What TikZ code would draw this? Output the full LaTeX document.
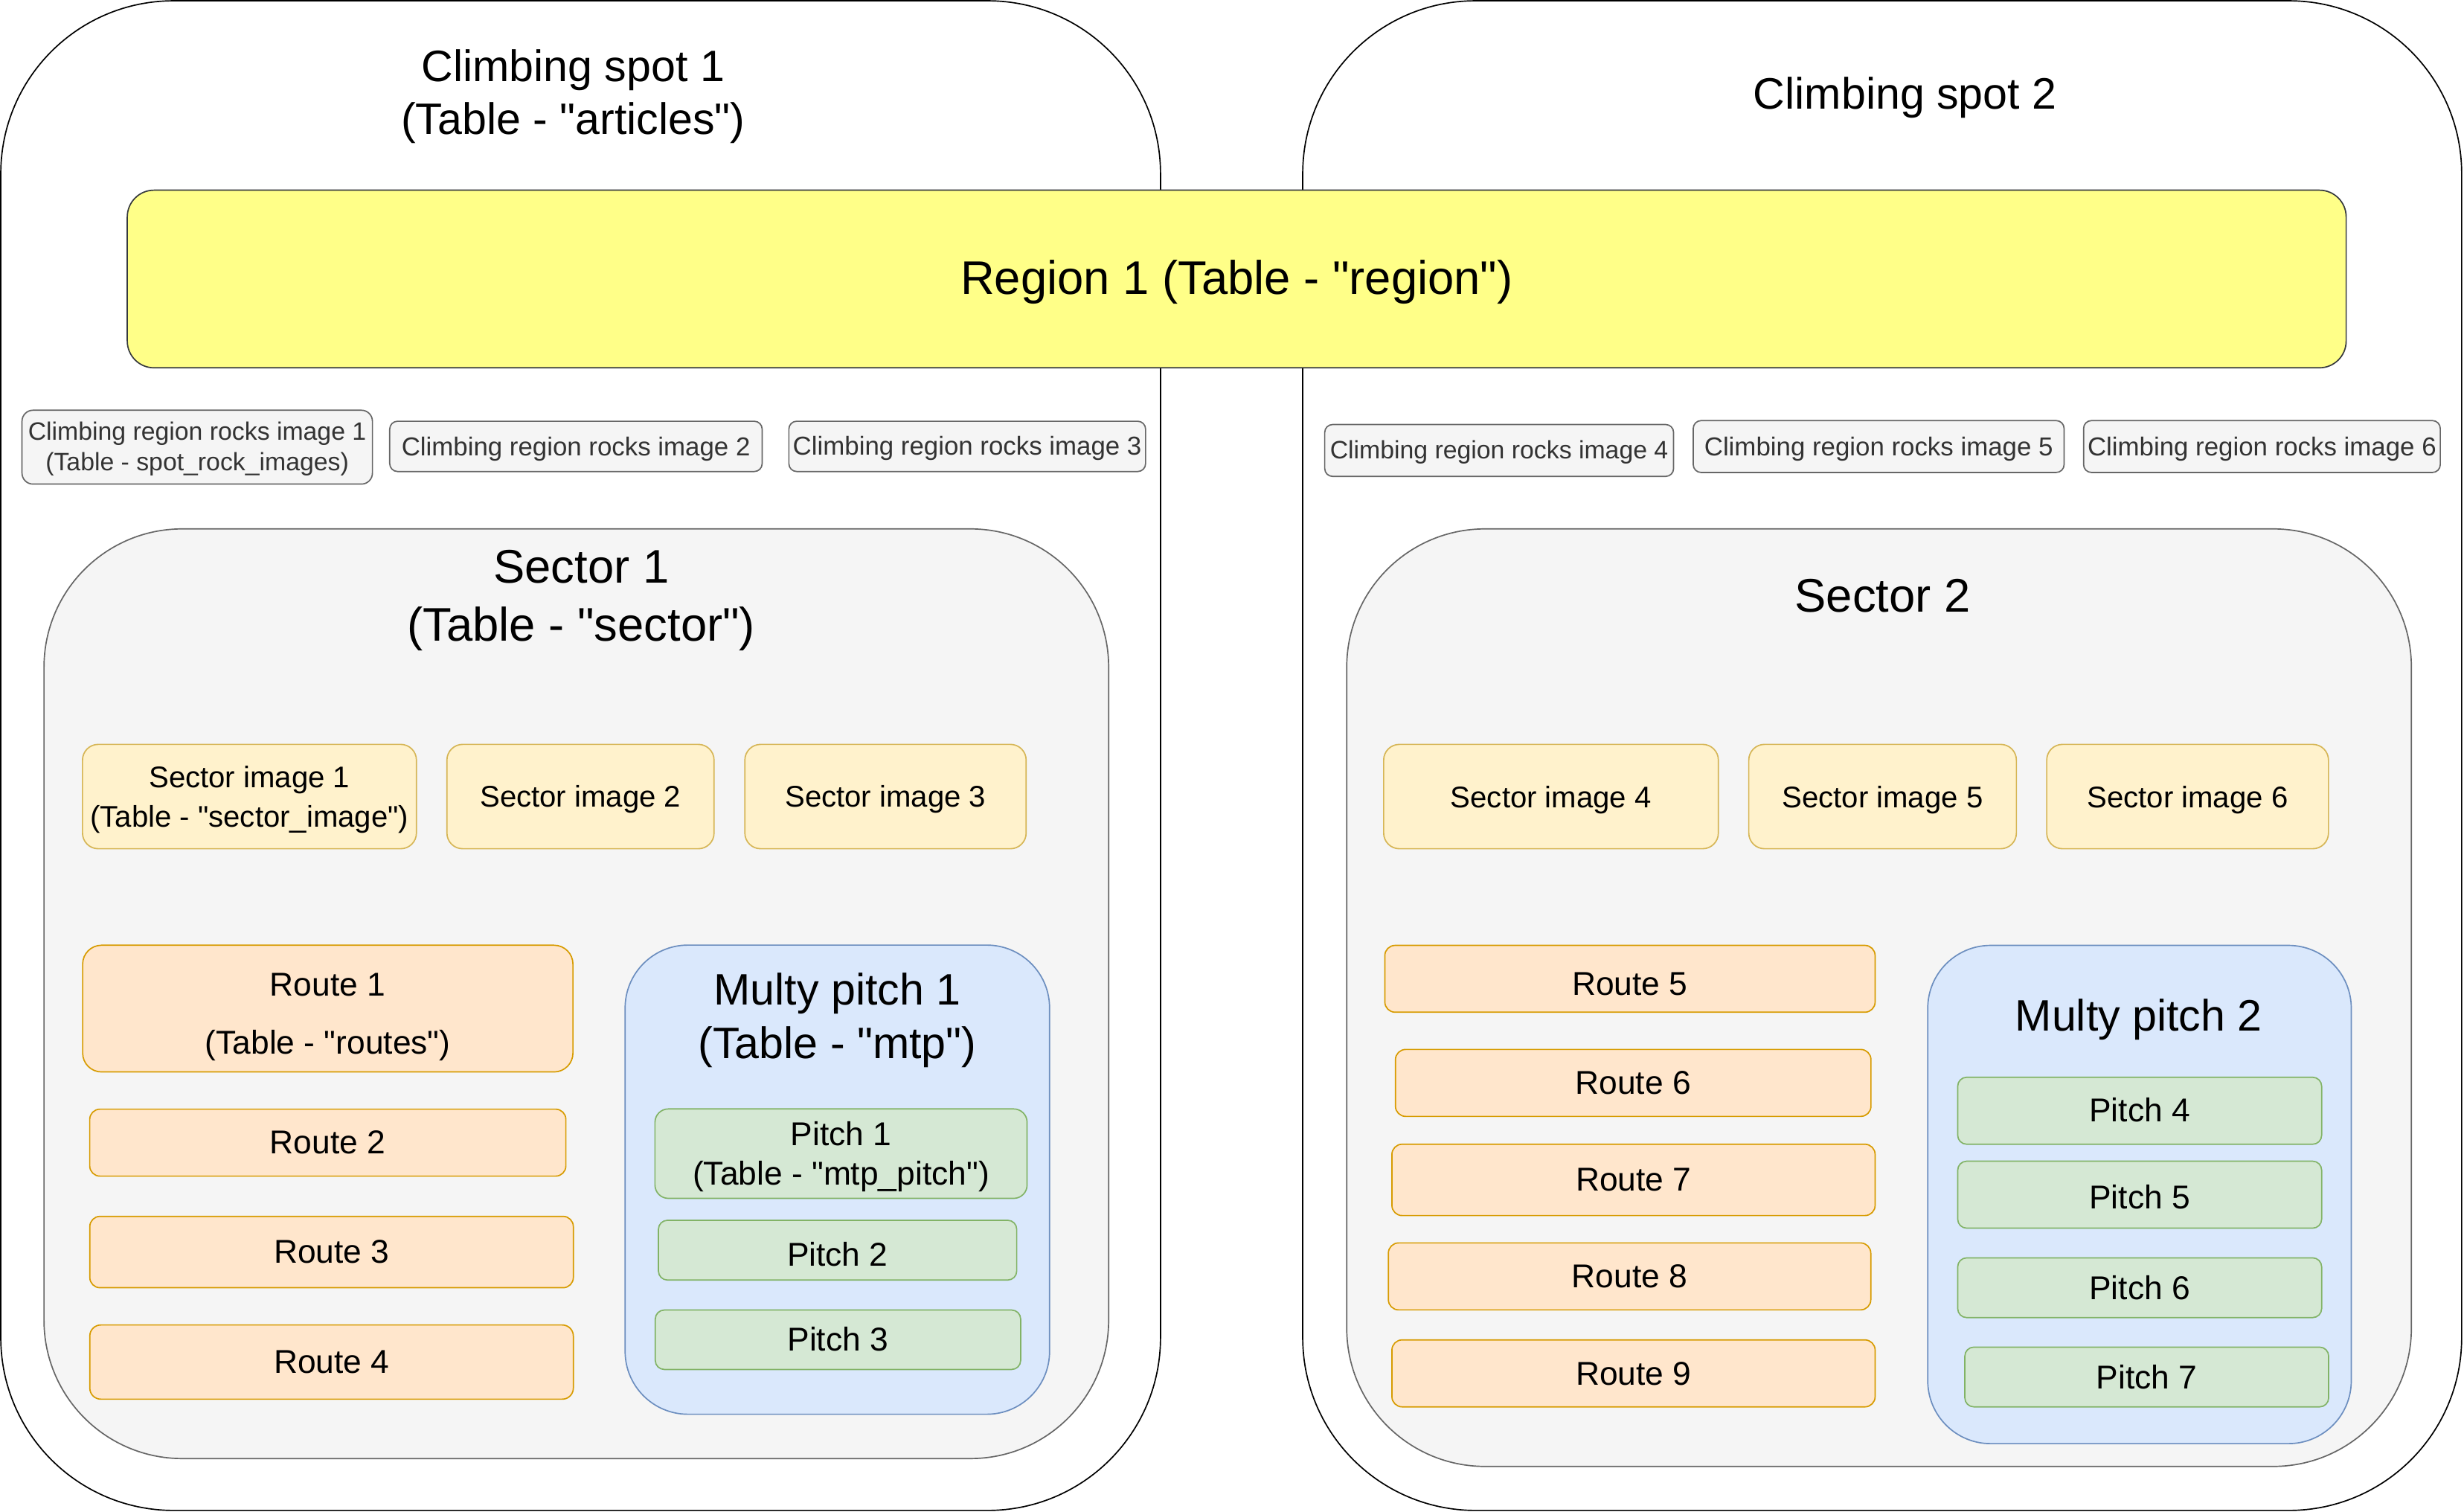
\documentclass[tikz,border=0pt]{standalone}
\usepackage{fontspec}
\setmainfont{Liberation Sans}[Ligatures=TeXOff]
\definecolor{regfill}{HTML}{FFFF88}
\definecolor{regdraw}{HTML}{36393D}
\definecolor{grayfill}{HTML}{F5F5F5}
\definecolor{graydraw}{HTML}{666666}
\definecolor{graytext}{HTML}{333333}
\definecolor{sifill}{HTML}{FFF2CC}
\definecolor{sidraw}{HTML}{D6B656}
\definecolor{rtfill}{HTML}{FFE6CC}
\definecolor{rtdraw}{HTML}{D79B00}
\definecolor{mpfill}{HTML}{DAE8FC}
\definecolor{mpdraw}{HTML}{6C8EBF}
\definecolor{pifill}{HTML}{D5E8D4}
\definecolor{pidraw}{HTML}{82B366}
\newcommand{\twolines}[2]{\begin{tabular}[t]{@{}c@{}}#1\\#2\end{tabular}}
\begin{document}
\begin{tikzpicture}[x=1pt,y=-1pt,
  basebox/.style={rectangle, inner sep=0pt, outer sep=0pt, line width=0.8pt, align=center, text depth=0pt},
  spotbox/.style={basebox, draw=black, fill=white, rounded corners=110pt},
  regionbox/.style={basebox, draw=regdraw, fill=regfill, rounded corners=17pt, font=\fontsize{30}{36}\selectfont},
  rockbox/.style={basebox, draw=graydraw, fill=grayfill, rounded corners=5pt, text=graytext, font=\fontsize{16.5}{19.5}\selectfont},
  sectorbox/.style={basebox, draw=graydraw, fill=grayfill, rounded corners=88pt},
  simgbox/.style={basebox, draw=sidraw, fill=sifill, rounded corners=10pt, font=\fontsize{19}{25}\selectfont},
  routebox/.style={basebox, draw=rtdraw, fill=rtfill, rounded corners=6.5pt, font=\fontsize{21}{36.7}\selectfont},
  mtpbox/.style={basebox, draw=mpdraw, fill=mpfill, rounded corners=40pt},
  pitchbox/.style={basebox, draw=pidraw, fill=pifill, rounded corners=5.7pt, font=\fontsize{21}{25.4}\selectfont},
  lbl/.style={inner sep=0pt, outer sep=0pt, anchor=base, align=center},
  biglbl/.style={lbl, font=\fontsize{28}{33.8}\selectfont},
  seclbl/.style={lbl, font=\fontsize{30}{37}\selectfont},
]
\useasboundingbox (0,0) rectangle (1568,961.6);

% climbing spots
\node[spotbox, minimum width=738pt, minimum height=960.5pt] (spot1) at (369.5,480.75) {};
\node[spotbox, minimum width=737.5pt, minimum height=960.5pt] (spot2) at (1197.75,480.75) {};
\node[biglbl] (spot1lbl) at (364.7,51.8) {\twolines{Climbing spot 1}{(Table - "articles")}};
\node[biglbl] (spot2lbl) at (1212.3,69.4) {Climbing spot 2};

% region
\node[regionbox, minimum width=1412pt, minimum height=113pt, text height=19.2pt] (region) at (787,177.5) {Region 1 (Table - "region")};

% rocks images
\node[rockbox, minimum width=223pt, minimum height=47pt, rounded corners=7pt, text height=0pt, text depth=9pt, font=\fontsize{16}{19.5}\selectfont] (rock1) at (125.5,284.5) {\twolines{Climbing region rocks image 1}{(Table - spot\_rock\_images)}};
\node[rockbox, minimum width=237pt, minimum height=32pt, text height=12.4pt] (rock2) at (366.5,284) {Climbing region rocks image 2};
\node[rockbox, minimum width=227pt, minimum height=32pt, text height=11.2pt] (rock3) at (615.5,284) {Climbing region rocks image 3};
\node[rockbox, minimum width=222pt, minimum height=33pt, text height=10.8pt, font=\fontsize{16}{19.5}\selectfont] (rock4) at (954,286.6) {Climbing region rocks image 4};
\node[rockbox, minimum width=236pt, minimum height=33pt, text height=11.6pt] (rock5) at (1195.5,284.1) {Climbing region rocks image 5};
\node[rockbox, minimum width=227pt, minimum height=33pt, text height=11.6pt] (rock6) at (1439.4,284.1) {Climbing region rocks image 6};

% sectors
\node[sectorbox, minimum width=677.5pt, minimum height=591.5pt] (sector1) at (366.75,632.25) {};
\node[sectorbox, minimum width=677.5pt, minimum height=596.5pt] (sector2) at (1195.75,634.75) {};
\node[seclbl] (sector1lbl) at (369.9,370.9) {\twolines{Sector 1}{(Table - "sector")}};
\node[seclbl] (sector2lbl) at (1198,389.4) {Sector 2};

% sector images
\node[simgbox, minimum width=212.5pt, minimum height=66.4pt, text height=0pt, text depth=11pt] (simg1) at (158.75,506.8) {\twolines{Sector image 1}{(Table - "sector\_image")}};
\node[simgbox, minimum width=170pt, minimum height=66.4pt, text height=13.6pt] (simg2) at (369.4,506.8) {Sector image 2};
\node[simgbox, minimum width=179pt, minimum height=66.4pt, text height=13.6pt] (simg3) at (563.5,506.8) {Sector image 3};
\node[simgbox, minimum width=213pt, minimum height=66.4pt, text height=14.2pt] (simg4) at (987,506.8) {Sector image 4};
\node[simgbox, minimum width=170.3pt, minimum height=66.4pt, text height=13.8pt] (simg5) at (1198,506.8) {Sector image 5};
\node[simgbox, minimum width=179.3pt, minimum height=66.4pt, text height=13.8pt] (simg6) at (1392.1,506.8) {Sector image 6};

% routes
\node[routebox, minimum width=312pt, minimum height=80.6pt, rounded corners=12pt, text height=0pt, text depth=15.6pt] (route1) at (208.6,641.7) {\twolines{Route 1}{(Table - "routes")}};
\node[routebox, minimum width=303pt, minimum height=42.6pt, text height=14.4pt] (route2) at (208.6,727) {Route 2};
\node[routebox, minimum width=307.7pt, minimum height=45.4pt, text height=14pt] (route3) at (211,796.6) {Route 3};
\node[routebox, minimum width=307.7pt, minimum height=47.2pt, rounded corners=7pt, text height=14.4pt] (route4) at (211,866.6) {Route 4};
\node[routebox, minimum width=312pt, minimum height=42.5pt, text height=20.8pt] (route5) at (1037.25,622.75) {Route 5};
\node[routebox, minimum width=302.6pt, minimum height=42.6pt, text height=14.2pt] (route6) at (1039.3,689) {Route 6};
\node[routebox, minimum width=307.5pt, minimum height=45.4pt, text height=14pt] (route7) at (1039.5,750.7) {Route 7};
\node[routebox, minimum width=307pt, minimum height=42.6pt, text height=14.6pt] (route8) at (1037,812.1) {Route 8};
\node[routebox, minimum width=307.5pt, minimum height=42.6pt, text height=14.6pt] (route9) at (1039.5,873.8) {Route 9};

% multi pitch containers
\node[mtpbox, minimum width=270.1pt, minimum height=298.5pt] (mtp1) at (532.85,750.55) {};
\node[mtpbox, minimum width=269.5pt, minimum height=317pt] (mtp2) at (1361.5,760) {};
\node[biglbl, font=\fontsize{28}{33.9}\selectfont] (mtp1lbl) at (532.9,639.4) {\twolines{Multy pitch 1}{(Table - "mtp")}};
\node[biglbl] (mtp2lbl) at (1361,655.7) {Multy pitch 2};

% pitches
\node[pitchbox, minimum width=236.8pt, minimum height=56.9pt, rounded corners=8.5pt, text height=0pt, text depth=10.8pt] (pitch1) at (535.2,734) {\twolines{Pitch 1}{(Table - "mtp\_pitch")}};
\node[pitchbox, minimum width=228pt, minimum height=38pt, text height=20pt] (pitch2) at (533,795.4) {Pitch 2};
\node[pitchbox, minimum width=232.5pt, minimum height=37.8pt, text height=14.6pt] (pitch3) at (533.25,852.4) {Pitch 3};
\node[pitchbox, minimum width=231.6pt, minimum height=42.6pt, text height=14pt] (pitch4) at (1361.6,706.7) {Pitch 4};
\node[pitchbox, minimum width=231.6pt, minimum height=42.6pt, text height=18.4pt] (pitch5) at (1361.6,760.1) {Pitch 5};
\node[pitchbox, minimum width=231.6pt, minimum height=38pt, text height=14.6pt] (pitch6) at (1361.6,819.3) {Pitch 6};
\node[pitchbox, minimum width=231.5pt, minimum height=38pt, text height=14.8pt] (pitch7) at (1366.1,876.1) {Pitch 7};
\end{tikzpicture}
\end{document}
